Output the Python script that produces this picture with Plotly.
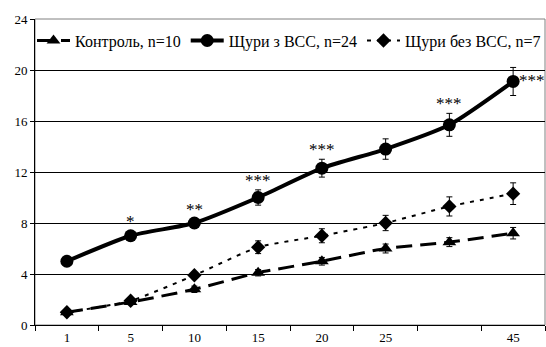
import plotly.graph_objects as go

categories = ["1", "5", "10", "15", "20", "25", " ", "45"]

control = [1.0, 1.8, 2.8, 4.1, 5.0, 6.0, 6.5, 7.2]
control_err = [0.15, 0.2, 0.25, 0.25, 0.3, 0.35, 0.35, 0.45]

vss = [5.0, 7.0, 8.0, 10.0, 12.3, 13.8, 15.7, 19.1]
vss_err = [0.2, 0.35, 0.35, 0.6, 0.7, 0.8, 0.9, 1.1]

no_vss = [1.0, 1.9, 3.9, 6.1, 7.0, 8.0, 9.3, 10.3]
no_vss_err = [0.15, 0.2, 0.25, 0.5, 0.55, 0.6, 0.75, 0.85]

stars = ["", "*", "**", "***", "***", "", "***", "***"]

names = ["Контроль, n=10", "Щури з ВСС, n=24", "Щури без ВСС, n=7"]

FONT = "serif"

fig = go.Figure()

fig.add_trace(go.Scatter(
    x=categories, y=control, name=names[0], mode="lines+markers",
    line=dict(color="black", width=3, dash="16px,8px", shape="spline", smoothing=0.6),
    marker=dict(symbol="triangle-up", size=12, color="black"),
    error_y=dict(type="data", array=control_err, color="black", thickness=1, width=3),
))
fig.add_trace(go.Scatter(
    x=categories, y=vss, name=names[1], mode="lines+markers",
    line=dict(color="black", width=4, shape="spline", smoothing=0.6),
    marker=dict(symbol="circle", size=13, color="black"),
    error_y=dict(type="data", array=vss_err, color="black", thickness=1, width=3),
))
fig.add_trace(go.Scatter(
    x=categories, y=no_vss, name=names[2], mode="lines+markers",
    line=dict(color="black", width=2, dash="4px,6px", shape="spline", smoothing=0.6),
    marker=dict(symbol="diamond", size=11, color="black"),
    error_y=dict(type="data", array=no_vss_err, color="black", thickness=1, width=3),
))

for i, s in enumerate(stars):
    if not s:
        continue
    if i == len(stars) - 1:
        fig.add_annotation(x=i, y=vss[i], text=s, showarrow=False,
                           xanchor="left", yanchor="middle", xshift=4, yshift=1,
                           font=dict(family=FONT, size=17, color="black"))
    else:
        fig.add_annotation(x=i, y=vss[i] + vss_err[i], text=s, showarrow=False,
                           xanchor="center", yanchor="bottom", yshift=-2,
                           font=dict(family=FONT, size=17, color="black"))

fig.add_shape(type="rect", xref="paper", yref="paper", x0=0, x1=1, y0=0, y1=1,
              line=dict(color="#808080", width=1), layer="below")

fig.update_layout(
    width=546, height=347,
    margin=dict(l=35, r=1, t=19, b=22),
    paper_bgcolor="white", plot_bgcolor="white",
    font=dict(family=FONT, size=13, color="black"),
    showlegend=True,
    legend=dict(orientation="h", x=0.014, y=0.985, xanchor="left", yanchor="top",
                bgcolor="rgba(0,0,0,0)", font=dict(family=FONT, size=16, color="black"),
                itemwidth=33, tracegroupgap=0),
    xaxis=dict(type="category", categoryorder="array", categoryarray=categories,
               range=[-0.5, 7.5], tickson="boundaries", ticks="outside", ticklen=5,
               tickcolor="black", showline=True, linecolor="black", linewidth=1,
               showgrid=False, zeroline=False, tickfont=dict(family=FONT, size=13)),
    yaxis=dict(range=[0, 24], dtick=4, ticks="outside", ticklen=4, tickcolor="black",
               showline=True, linecolor="black", linewidth=1, showgrid=True,
               gridcolor="black", gridwidth=1, zeroline=False,
               tickfont=dict(family=FONT, size=13)),
)

fig.write_html("out.html")
